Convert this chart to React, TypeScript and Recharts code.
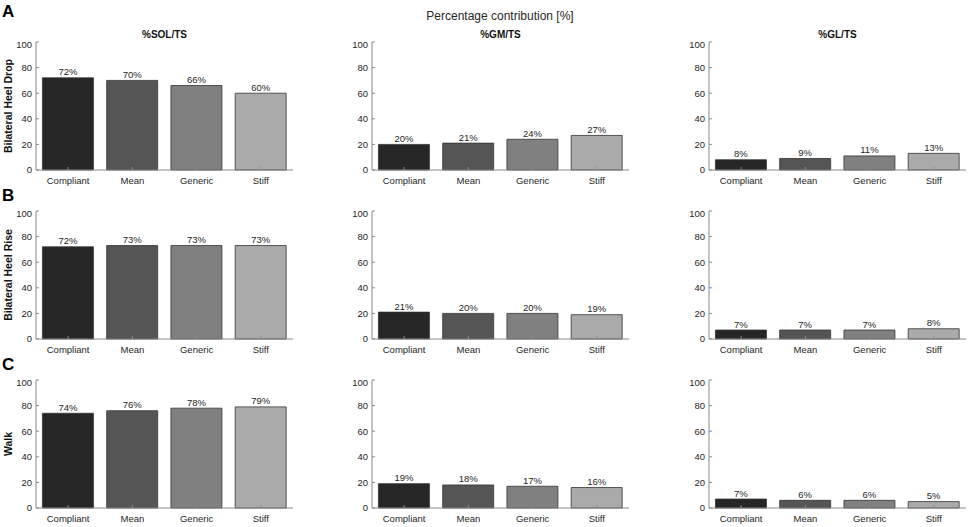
import React from 'react'
import { BarChart, Bar, XAxis, YAxis, Cell, LabelList } from 'recharts'

const categories = ['Compliant', 'Mean', 'Generic', 'Stiff']
const barColors = ['#262626', '#555555', '#808080', '#aaaaaa']
const yTicks = [0, 20, 40, 60, 80, 100]

const columnTitles = ['%SOL/TS', '%GM/TS', '%GL/TS']
const rowTitles = ['Bilateral Heel Drop', 'Bilateral Heel Rise', 'Walk']
const rowLetters = ['A', 'B', 'C']

// percentage contribution per condition, one array per panel
const heelDropSOL = [72, 70, 66, 60]
const heelDropGM = [20, 21, 24, 27]
const heelDropGL = [8, 9, 11, 13]
const heelRiseSOL = [72, 73, 73, 73]
const heelRiseGM = [21, 20, 20, 19]
const heelRiseGL = [7, 7, 7, 8]
const walkSOL = [74, 76, 78, 79]
const walkGM = [19, 18, 17, 16]
const walkGL = [7, 6, 6, 5]

const panels = [
  [heelDropSOL, heelDropGM, heelDropGL],
  [heelRiseSOL, heelRiseGM, heelRiseGL],
  [walkSOL, walkGM, walkGL],
]

const BOX = '#8a8a8a'
const TEXT = '#262626'
const FONT = '"Liberation Sans", Arial, sans-serif'

const PLOT_W = 257
const PLOT_H = 128
const AXIS_W = 36
const colLeft = [36, 372, 709]
const rowTop = [42, 211, 380]

function Panel({ values, left, top }: { values: number[]; left: number; top: number }) {
  const data = categories.map((name, i) => ({ name, value: values[i] }))
  return (
    <div style={{ position: 'absolute', left: left - AXIS_W, top: top - 2 }}>
      <BarChart
        width={AXIS_W + PLOT_W + 4}
        height={2 + PLOT_H + 24}
        data={data}
        margin={{ top: 2, right: 4, left: 0, bottom: 0 }}
        barCategoryGap="10%"
      >
        <XAxis
          xAxisId="b"
          dataKey="name"
          interval={0}
          height={24}
          tickSize={-3}
          tickMargin={10}
          axisLine={{ stroke: BOX }}
          tickLine={{ stroke: BOX }}
          tick={{ fontSize: 9.5, fill: TEXT }}
        />
        <XAxis
          xAxisId="t"
          orientation="top"
          dataKey="name"
          interval={0}
          height={0}
          tickSize={-3}
          tick={false}
          axisLine={{ stroke: BOX }}
          tickLine={{ stroke: BOX }}
        />
        <YAxis
          yAxisId="l"
          domain={[0, 100]}
          ticks={yTicks}
          width={AXIS_W}
          tickSize={-3}
          tickMargin={7}
          axisLine={{ stroke: BOX }}
          tickLine={{ stroke: BOX }}
          tick={{ fontSize: 9.5, fill: TEXT }}
        />
        <YAxis
          yAxisId="r"
          orientation="right"
          domain={[0, 100]}
          ticks={yTicks}
          width={0}
          tickSize={-3}
          tick={false}
          axisLine={{ stroke: BOX }}
          tickLine={{ stroke: BOX }}
        />
        <Bar xAxisId="b" yAxisId="l" dataKey="value" stroke="#333333" strokeWidth={0.8} isAnimationActive={false}>
          {data.map((d, i) => (
            <Cell key={d.name} fill={barColors[i]} />
          ))}
          <LabelList
            dataKey="value"
            position="top"
            offset={2.5}
            formatter={(v: number) => `${v}%`}
            style={{ fontSize: 9.5, fill: TEXT }}
          />
        </Bar>
      </BarChart>
    </div>
  )
}

export default function App() {
  return (
    <div
      style={{
        position: 'absolute',
        left: 0,
        top: 0,
        width: 969,
        height: 527,
        background: '#fff',
        fontFamily: FONT,
      }}
    >
      {panels.map((row, r) =>
        row.map((values, c) => (
          <Panel key={`${r}-${c}`} values={values} left={colLeft[c]} top={rowTop[r]} />
        ))
      )}
      <svg width={969} height={527} style={{ position: 'absolute', left: 0, top: 0, pointerEvents: 'none' }}>
        <text x={500} y={20} textAnchor="middle" fontSize={12} fill={TEXT}>
          Percentage contribution [%]
        </text>
        {columnTitles.map((t, c) => (
          <text key={t} x={colLeft[c] + PLOT_W / 2} y={38} textAnchor="middle" fontSize={10} fontWeight="bold" fill="#111">
            {t}
          </text>
        ))}
        {rowLetters.map((l, r) => (
          <text key={l} x={2} y={r === 0 ? 17 : rowTop[r] - 10} fontSize={17} fontWeight="bold" fill="#000">
            {l}
          </text>
        ))}
        {rowTitles.map((t, r) => (
          <text
            key={t}
            transform={`translate(12, ${rowTop[r] + PLOT_H / 2}) rotate(-90)`}
            textAnchor="middle"
            fontSize={10.5}
            fontWeight="bold"
            fill="#111"
          >
            {t}
          </text>
        ))}
      </svg>
    </div>
  )
}
